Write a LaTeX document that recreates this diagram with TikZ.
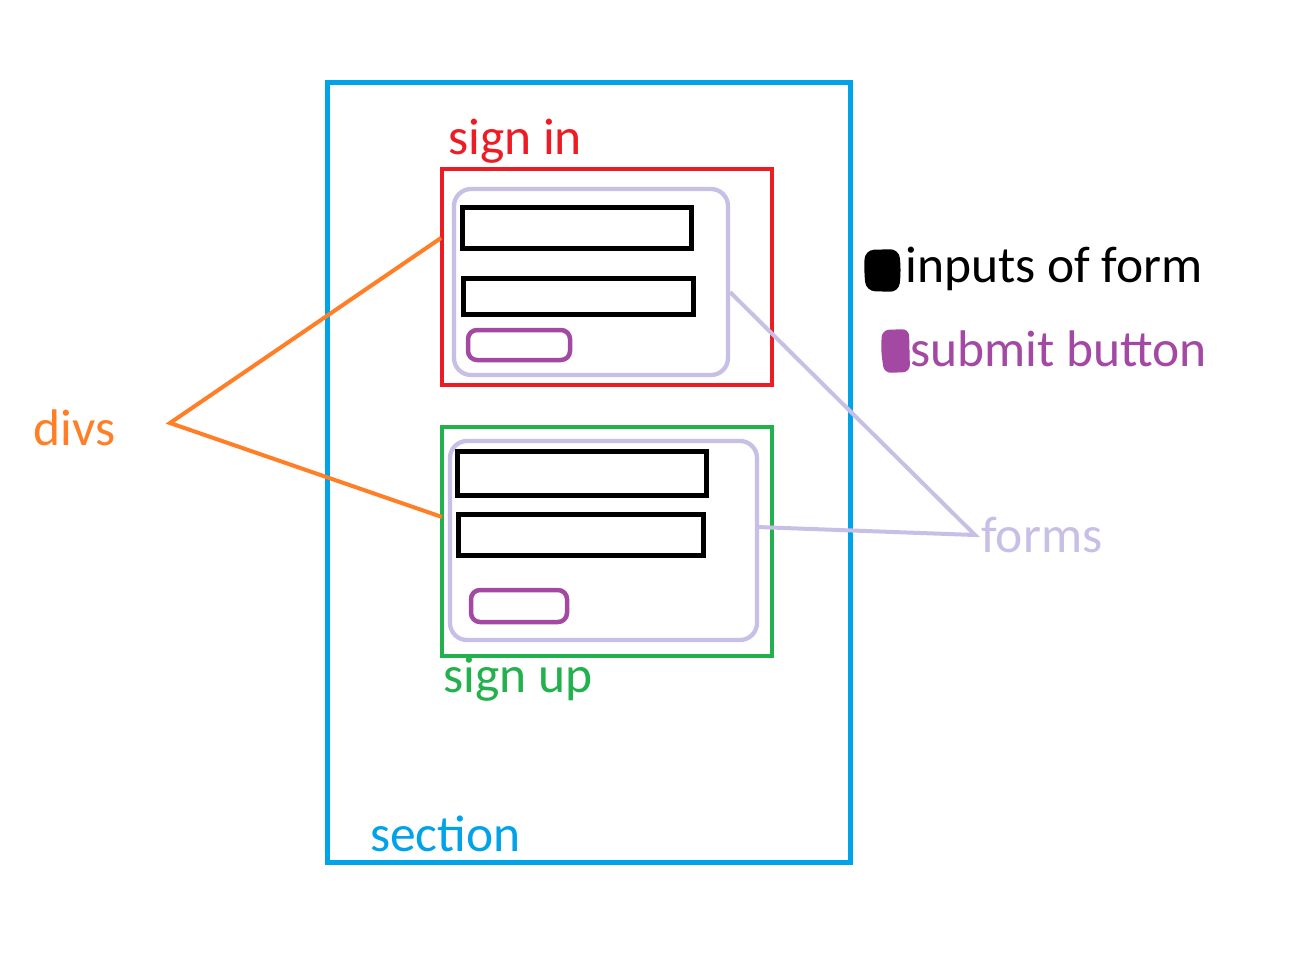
\documentclass[tikz,border=0pt]{standalone}
\usepackage{fontspec}
\setmainfont{Carlito}
\usetikzlibrary{calc}
\definecolor{secblue}{HTML}{00A2E8}
\definecolor{divred}{HTML}{ED1C24}
\definecolor{divgreen}{HTML}{22B14C}
\definecolor{formlav}{HTML}{C8BFE7}
\definecolor{btnpurple}{HTML}{A349A4}
\definecolor{divorange}{HTML}{FF7F27}
\begin{document}
\begin{tikzpicture}[x=1pt,y=-1pt,
  box/.style={draw, rectangle, inner sep=0pt, outer sep=0pt, anchor=north west},
  sectionbox/.style={box, draw=secblue, line width=5pt},
  divbox/.style={box, line width=4.5pt},
  formbox/.style={box, draw=formlav, line width=4.3pt, rounded corners=17pt},
  inputbox/.style={box, draw=black, line width=5pt},
  btnbox/.style={box, draw=btnpurple, line width=4.5pt, rounded corners=9pt},
  lbl/.style={anchor=base west, inner sep=0pt, font=\fontsize{51.5}{60}\selectfont},
  divline/.style={draw=divorange, line width=4pt},
  formline/.style={draw=formlav, line width=4pt},
]
\useasboundingbox (0,0) rectangle (1304,970);
\fill[white] (0,0) rectangle (1304,970);

% section
\node[sectionbox, minimum width=523pt, minimum height=780pt] (section) at (327,82) {};
\node[lbl, text=secblue] (sectionlbl) at (370,851) {section};

% sign in div
\node[divbox, draw=divred, minimum width=330pt, minimum height=216pt] (signin) at (442,169) {};
\node[lbl, text=divred] (signinlbl) at (448,154) {sign in};
\node[formbox, minimum width=274pt, minimum height=186pt] (form1) at (454,189) {};
\node[inputbox, minimum width=229pt, minimum height=41pt] (in1) at (462,207) {};
\node[inputbox, minimum width=230pt, minimum height=36pt] (in2) at (463,278) {};
\node[btnbox, minimum width=102pt, minimum height=30pt] (btn1) at (468,330) {};

% sign up div
\node[divbox, draw=divgreen, minimum width=330pt, minimum height=229pt] (signup) at (442,427) {};
\node[lbl, text=divgreen] (signuplbl) at (443,692) {sign up};
\node[formbox, minimum width=307pt, minimum height=199pt] (form2) at (450,441) {};
\node[inputbox, minimum width=249pt, minimum height=44pt] (in3) at (457,451) {};
\node[inputbox, minimum width=245pt, minimum height=41pt] (in4) at (458,514) {};
\node[btnbox, minimum width=96pt, minimum height=32pt] (btn2) at (471,590) {};

% legend
\fill[black, rounded corners=9pt] (865,250) -- (899,249) -- (901,270) -- (899,292) -- (866,291) -- (864,270) -- cycle;
\node[lbl, text=black] (inputslbl) at (905,282) {inputs of form};
\fill[btnpurple, rounded corners=7pt] (882,330) -- (909,329) -- (910,372) -- (884,373) -- (881,350) -- cycle;
\node[lbl, text=btnpurple] (submitlbl) at (910,366) {submit button};

% labels with connectors
\node[lbl, text=divorange] (divslbl) at (33,445) {divs};
\coordinate (divsv) at (170,423);
\draw[divline, line join=miter] ($(signin.north west)+(-1,69)$) -- (divsv) -- ($(signup.north west)+(0,90)$);

\node[lbl, text=formlav] (formslbl) at (981,552) {forms};
\coordinate (formsv) at (975,535);
\draw[formline] ($(form1.north east)+(2,103)$) -- (formsv) -- ($(form2.north east)+(0,86)$);
\end{tikzpicture}
\end{document}
